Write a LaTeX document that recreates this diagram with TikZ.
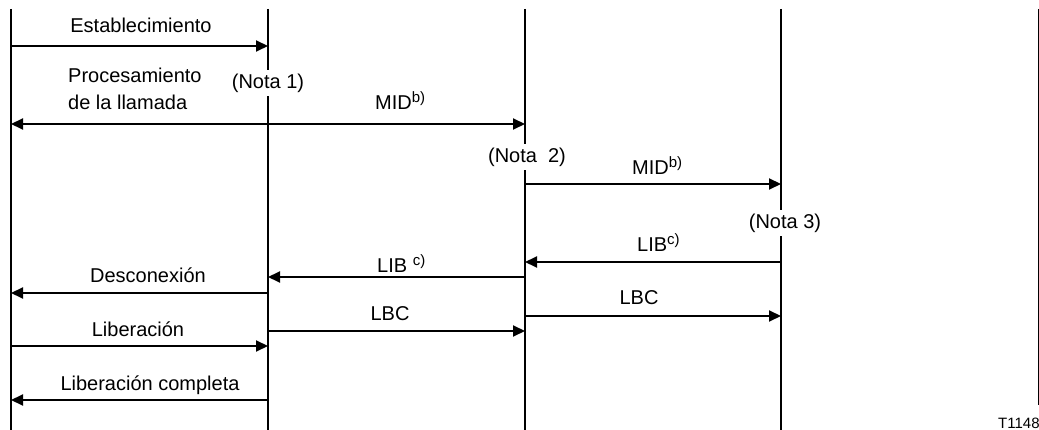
\documentclass[tikz,border=0pt]{standalone}
\usepackage{fontspec}
\setmainfont{Liberation Sans}
\usetikzlibrary{arrows.meta}
\newcommand{\supr}[1]{\raisebox{7.5pt}{\fontsize{15}{15}\selectfont #1}}
\begin{document}
\begin{tikzpicture}[x=1pt,y=-1pt,
  life/.style={line width=2pt},
  msg/.style={line width=2pt,-{Triangle[length=12pt,width=11pt]}},
  msgb/.style={line width=2pt,{Triangle[length=12pt,width=11pt]}-{Triangle[length=12pt,width=11pt]}},
  lbl/.style={font=\fontsize{20}{24}\selectfont, anchor=base, inner sep=0pt},
  note/.style={font=\fontsize{20}{24}\selectfont, fill=white, inner xsep=0pt, inner ysep=4pt}]
\useasboundingbox (0,0) rectangle (1039,430);
% lifelines
\coordinate (A0) at (11,9);   \coordinate (A9) at (11,430);
\coordinate (B0) at (268,9);  \coordinate (B9) at (268,430);
\coordinate (C0) at (525,9);  \coordinate (C9) at (525,430);
\coordinate (D0) at (781,9);  \coordinate (D9) at (781,430);
\coordinate (R0) at (1038,9); \coordinate (R9) at (1038,405);
\draw[life] (A0) -- (A9);
\draw[life] (B0) -- (B9);
\draw[life] (C0) -- (C9);
\draw[life] (D0) -- (D9);
\draw[line width=1pt] (R0) -- (R9);
% notes
\node[note] (n1) at (268,83) {(Nota 1)};
\node[note] (n2) at (527,157) {(Nota\ \ 2)};
\node[note] (n3) at (785,223) {(Nota 3)};
% message end points
\coordinate (e1) at (11,46);   \coordinate (e2) at (268,46);
\coordinate (p1) at (11,124);  \coordinate (p2) at (525,124);
\coordinate (m1) at (525,184); \coordinate (m2) at (781,184);
\coordinate (l1) at (781,262); \coordinate (l2) at (525,262);
\coordinate (k1) at (525,277); \coordinate (k2) at (268,277);
\coordinate (d1) at (268,293); \coordinate (d2) at (11,293);
\coordinate (c1) at (525,316); \coordinate (c2) at (781,316);
\coordinate (b1) at (268,331); \coordinate (b2) at (525,331);
\coordinate (r1) at (11,346);  \coordinate (r2) at (268,346);
\coordinate (f1) at (268,400); \coordinate (f2) at (11,400);
\draw[msg] (e1) -- (e2);
\draw[msgb] (p1) -- (p2);
\draw[msg] (m1) -- (m2);
\draw[msg] (l1) -- (l2);
\draw[msg] (k1) -- (k2);
\draw[msg] (d1) -- (d2);
\draw[msg] (c1) -- (c2);
\draw[msg] (b1) -- (b2);
\draw[msg] (r1) -- (r2);
\draw[msg] (f1) -- (f2);
% labels
\node[lbl] (t1) at (141,33) {Establecimiento};
\node[lbl, anchor=base west] (t2) at (68,83) {Procesamiento};
\node[lbl, anchor=base west] (t3) at (68,110) {de la llamada};
\node[lbl, anchor=base west] (t4) at (375,110) {MID\supr{b)}};
\node[lbl, anchor=base west] (t5) at (632,175) {MID\supr{b)}};
\node[lbl, anchor=base west] (t6) at (637,252) {LIB\supr{c)}};
\node[lbl, anchor=base west] (t7) at (377,273) {LIB \supr{c)}};
\node[lbl] (t8) at (148,283) {Desconexión};
\node[lbl] (t9) at (639,305) {LBC};
\node[lbl] (t10) at (390,321) {LBC};
\node[lbl] (t11) at (138,337) {Liberación};
\node[lbl] (t12) at (150,390) {Liberación completa};
\node[anchor=base west, inner sep=0pt, font=\fontsize{15}{17}\selectfont] (id) at (998,428) {T1148};
\end{tikzpicture}
\end{document}
